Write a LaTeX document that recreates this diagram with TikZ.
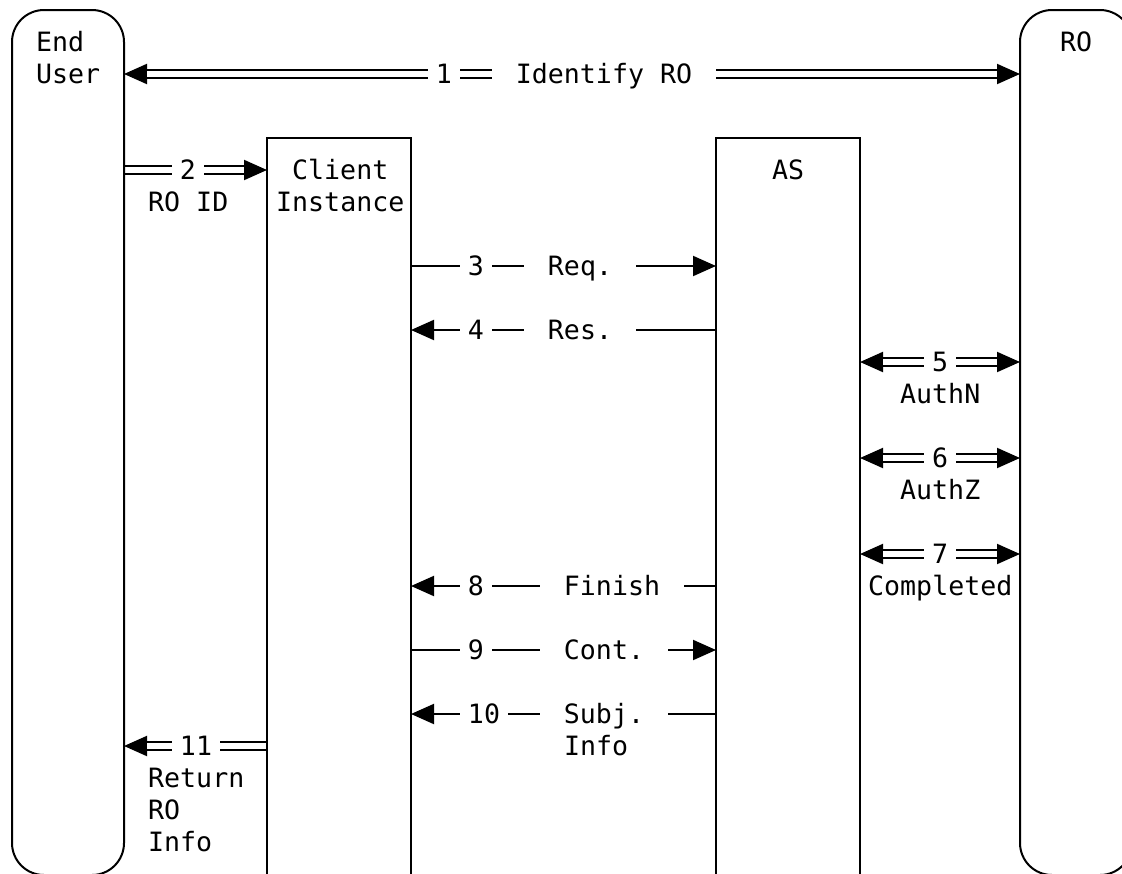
\documentclass[tikz,border=0pt]{standalone}
\usepackage{fontspec}
\newfontfamily\monofam{DejaVu Sans Mono}
\usetikzlibrary{arrows.meta}
\begin{document}
\begin{tikzpicture}[x=1pt,y=-1pt,
  lane/.style={draw, line width=2pt, inner sep=0pt, outer sep=0pt, anchor=north west},
  txt/.style={font={\monofam\fontsize{26.6}{32}\selectfont}, inner sep=0pt, text height=19.4pt, text depth=0pt},
  tw/.style={txt, anchor=west},
  onl/.style={txt, fill=white, inner xsep=8pt, inner ysep=0pt},
  onlw/.style={txt, fill=white, inner xsep=24pt, inner ysep=0pt},
  tipR/.style={line width=2pt, -{Triangle[length=23pt,width=20pt]}},
  tipL/.style={line width=2pt, {Triangle[length=23pt,width=20pt]}-},
  tipB/.style={line width=2pt, {Triangle[length=23pt,width=20pt]}-{Triangle[length=23pt,width=20pt]}},
  dbl/.style={double, double distance=6pt, line width=2pt},
  sgl/.style={line width=2pt}
]
\useasboundingbox (0,0) rectangle (1122,873);
\clip (0,0) rectangle (1122,873);

% lanes (placed first as nodes, drawn over later)
\path (12,10) node[lane, draw=none, minimum width=112pt, minimum height=865pt] (eu) {};
\path (1020,10) node[lane, draw=none, minimum width=112pt, minimum height=865pt] (ro) {};
\path (267,138) node[lane, draw=none, minimum width=144pt, minimum height=800pt] (ci) {};
\path (716,138) node[lane, draw=none, minimum width=144pt, minimum height=800pt] (as) {};

% 1: End User <=> RO
\draw[tipB] (eu.east |- 0,74) -- (ro.west |- 0,74);
\draw[dbl, shorten <=23pt, shorten >=23pt] (eu.east |- 0,74) -- (ro.west |- 0,74);
% 2: End User => Client
\draw[tipR] (eu.east |- 0,170) -- (ci.west |- 0,170);
\draw[dbl, shorten >=23pt] (eu.east |- 0,170) -- (ci.west |- 0,170);
% 3: Client -> AS
\draw[sgl, tipR] (ci.east |- 0,266) -- (as.west |- 0,266);
% 4: AS -> Client
\draw[sgl, tipL] (ci.east |- 0,330) -- (as.west |- 0,330);
% 5,6,7: AS <=> RO
\foreach \yy in {362,458,554}{
  \draw[tipB] (as.east |- 0,\yy) -- (ro.west |- 0,\yy);
  \draw[dbl, shorten <=23pt, shorten >=23pt] (as.east |- 0,\yy) -- (ro.west |- 0,\yy);
}
% 8: AS -> Client
\draw[sgl, tipL] (ci.east |- 0,586) -- (as.west |- 0,586);
% 9: Client -> AS
\draw[sgl, tipR] (ci.east |- 0,650) -- (as.west |- 0,650);
% 10: AS -> Client
\draw[sgl, tipL] (ci.east |- 0,714) -- (as.west |- 0,714);
% 11: Client => End User
\draw[tipL] (eu.east |- 0,746) -- (ci.west |- 0,746);
\draw[dbl, shorten <=23pt] (eu.east |- 0,746) -- (ci.west |- 0,746);

% labels on connectors
\node[onl] (l1) at (444,74) {1};
\node[onlw] (l1t) at (604,74) {Identify RO};
\node[onl] (l2) at (188,170) {2};
\node[onl] (l3) at (476,266) {3};
\node[onlw] (l3t) at (580,266) {Req.};
\node[onl] (l4) at (476,330) {4};
\node[onlw] (l4t) at (580,330) {Res.};
\node[onl] (l5) at (940,362) {5};
\node[onl] (l6) at (940,458) {6};
\node[onl] (l7) at (940,554) {7};
\node[onl] (l8) at (476,586) {8};
\node[onlw] (l8t) at (612,586) {Finish};
\node[onl] (l9) at (476,650) {9};
\node[onlw] (l9t) at (604,650) {Cont.};
\node[onl] (l10) at (484,714) {10};
\node[onlw] (l10t) at (604,714) {Subj.};
\node[onl] (l11) at (196,746) {11};

% other texts
\node[tw] (t-end) at (36,42) {End};
\node[tw] (t-user) at (36,74) {User};
\node[tw] (t-ro) at (1060,42) {RO};
\node[tw] (t-client) at (292,170) {Client};
\node[tw] (t-inst) at (276,202) {Instance};
\node[tw] (t-as) at (772,170) {AS};
\node[tw] (t-roid) at (148,202) {RO ID};
\node[tw] (t-authn) at (900,394) {AuthN};
\node[tw] (t-authz) at (900,490) {AuthZ};
\node[tw] (t-compl) at (868,586) {Completed};
\node[tw] (t-info10) at (564,746) {Info};
\node[tw] (t-ret) at (148,778) {Return};
\node[tw] (t-ro2) at (148,810) {RO};
\node[tw] (t-info11) at (148,842) {Info};

% lane borders drawn last
\draw[line width=2pt, rounded corners=32pt] (eu.south west) rectangle (eu.north east);
\draw[line width=2pt, rounded corners=32pt] (ro.south west) rectangle (ro.north east);
\draw[line width=2pt] (ci.south west) rectangle (ci.north east);
\draw[line width=2pt] (as.south west) rectangle (as.north east);
\end{tikzpicture}
\end{document}
